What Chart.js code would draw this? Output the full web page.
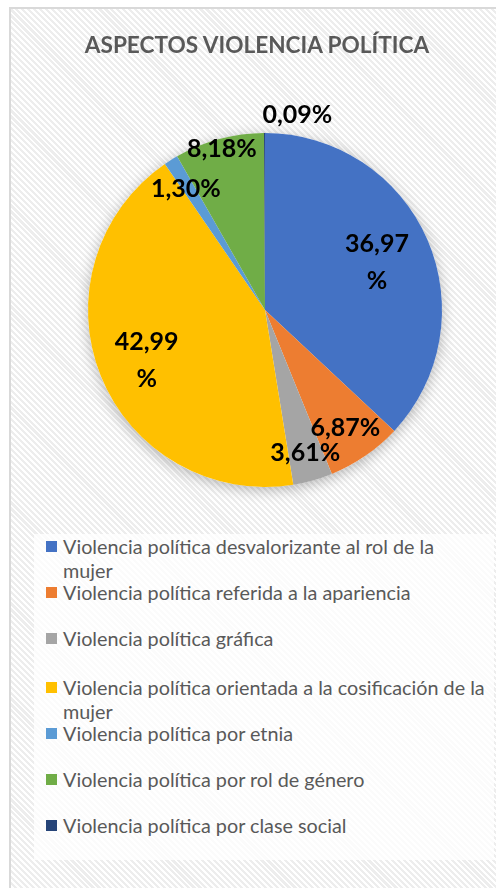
<!DOCTYPE html>
<html>
<head>
<meta charset="utf-8">
<script src="https://cdn.jsdelivr.net/npm/chart.js@4"></script>
<style>
  html, body { margin: 0; padding: 0; background: #fff; }
  #frame {
    position: absolute; left: 9px; top: 7px; width: 490px; height: 884px;
    border: 2px solid #d9d9d9;
    background: repeating-linear-gradient(45deg, #ffffff 0 2px, #ededed 2px 4.2px);
  }
  #pie { position: absolute; left: 0; top: 0; }
  #title {
    position: absolute; left: 0; top: 30px; width: 514px; text-align: center;
    font: bold 22.6px Lato, sans-serif; color: #595959; line-height: 30px;
  }
  #legend {
    position: absolute; left: 34px; top: 534px; width: 460px; height: 326px;
    background: rgba(255, 255, 255, 0.75);
    font-family: Lato, sans-serif; font-size: 19.8px; color: #595959;
  }
  .item { position: absolute; left: 12px; width: 442px; line-height: 24px; }
  .item span.box {
    position: absolute; left: 0; top: 7px; width: 11px; height: 11px;
  }
  .item span.txt { display: block; padding-left: 17px; }
</style>
</head>
<body>
<div id="frame"></div>
<canvas id="pie" width="496" height="520"></canvas>
<div id="title"></div>
<div id="legend"></div>
<script>
const titleText = 'ASPECTOS VIOLENCIA POLÍTICA'
const categories = [
    'Violencia política desvalorizante al rol de la mujer',
    'Violencia política referida a la apariencia',
    'Violencia política gráfica',
    'Violencia política orientada a la cosificación de la mujer',
    'Violencia política por etnia',
    'Violencia política por rol de género',
    'Violencia política por clase social',
]
const percentages = [36.97, 6.87, 3.61, 42.99, 1.30, 8.18, 0.09]
const colors = ['#4472C4', '#ED7D31', '#A5A5A5', '#FFC000', '#5B9BD5', '#70AD47', '#264478']

// where each label sits: fraction of radius along the slice's mid angle, plus a nudge
const labelPlace = [
    { r: 0.69, dx: 0, dy: 1, wrap: true },
    { r: 0.81, dx: -1, dy: 0 },
    { r: 0.84, dx: 0, dy: 0 },
    { r: 0.72, dx: 0, dy: 3, wrap: true },
    { r: 0.82, dx: -2, dy: 2 },
    { r: 0.94, dx: 0, dy: 0 },
    { r: 1.12, dx: 33, dy: 3 },
]

function fmt(v) {
    return v.toFixed(2).replace('.', ',')
}

// soft shadow under the whole pie
const pieShadow = {
    id: 'pieShadow',
    beforeDatasetsDraw(chart) {
        const arc = chart.getDatasetMeta(0).data[0]
        if (!arc) return
        const { x, y, outerRadius } = arc.getProps(['x', 'y', 'outerRadius'], true)
        const ctx = chart.ctx
        ctx.save()
        ctx.shadowColor = 'rgba(0,0,0,0.28)'
        ctx.shadowBlur = 14
        ctx.shadowOffsetY = 3
        ctx.beginPath()
        ctx.arc(x, y, outerRadius, 0, Math.PI * 2)
        ctx.fillStyle = '#ffffff'
        ctx.fill()
        ctx.restore()
    },
}

const sliceLabels = {
    id: 'sliceLabels',
    afterDatasetsDraw(chart) {
        const ctx = chart.ctx
        ctx.save()
        ctx.font = 'bold 25px Lato, sans-serif'
        ctx.fillStyle = '#000'
        ctx.textAlign = 'center'
        ctx.textBaseline = 'middle'
        chart.getDatasetMeta(0).data.forEach((arc, i) => {
            const p = arc.getProps(['x', 'y', 'startAngle', 'endAngle', 'outerRadius'], true)
            const mid = (p.startAngle + p.endAngle) / 2
            const place = labelPlace[i]
            const cx = p.x + Math.cos(mid) * p.outerRadius * place.r + place.dx
            const cy = p.y + Math.sin(mid) * p.outerRadius * place.r + place.dy
            const lines = place.wrap ? [fmt(percentages[i]), '%'] : [fmt(percentages[i]) + '%']
            const lh = 37
            lines.forEach((t, k) => {
                ctx.fillText(t, cx, cy + (k - (lines.length - 1) / 2) * lh)
            })
        })
        ctx.restore()
    },
}

document.getElementById('title').textContent = titleText

const chart = new Chart(document.getElementById('pie').getContext('2d'), {
    type: 'pie',
    data: {
        labels: categories,
        datasets: [
            {
                data: percentages,
                backgroundColor: colors,
                borderWidth: 0,
                hoverOffset: 0,
                radius: 177,
            },
        ],
    },
    options: {
        responsive: false,
        animation: false,
        events: [],
        layout: { padding: { left: 34, right: 0, top: 133, bottom: 33 } },
        plugins: {
            legend: { display: false },
            tooltip: { enabled: false },
        },
    },
    plugins: [pieShadow, sliceLabels],
})

// legend built from the chart's own labels and colours
const slotTops = [0, 46, 92, 141, 187, 233, 279]
const legendEl = document.getElementById('legend')
chart.data.labels.forEach((label, i) => {
    const item = document.createElement('div')
    item.className = 'item'
    item.style.top = slotTops[i] + 'px'
    const box = document.createElement('span')
    box.className = 'box'
    box.style.background = chart.data.datasets[0].backgroundColor[i]
    const txt = document.createElement('span')
    txt.className = 'txt'
    txt.textContent = label
    item.appendChild(box)
    item.appendChild(txt)
    legendEl.appendChild(item)
})
</script>
</body>
</html>
